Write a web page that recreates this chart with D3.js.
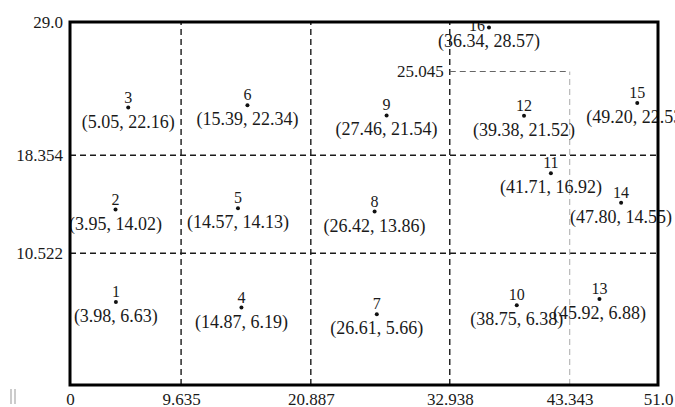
<!DOCTYPE html>
<html lang="en">
<head>
    <meta charset="UTF-8">
    <title>Partition</title>
    <script src="https://d3js.org/d3.v7.min.js"></script>
    <style>
        body { margin: 0; background: #fff; }
        text { font-family: "Liberation Serif", "DejaVu Serif", serif; fill: #1a1a1a; }
    </style>
</head>
<body>
<div style="width: 675px;height: 407px" id="figure"></div>
<script>

    // points: id, x, y and the coordinate text written under each one
    let ids = [1, 2, 3, 4, 5, 6, 7, 8, 9, 10, 11, 12, 13, 14, 15, 16];
    let px = [3.98, 3.95, 5.05, 14.87, 14.57, 15.39, 26.61, 26.42, 27.46, 38.75, 41.71, 39.38, 45.92, 47.80, 49.20, 36.34];
    let py = [6.63, 14.02, 22.16, 6.19, 14.13, 22.34, 5.66, 13.86, 21.54, 6.38, 16.92, 21.52, 6.88, 14.55, 22.53, 28.57];
    let coordLabels = ["(3.98, 6.63)", "(3.95, 14.02)", "(5.05, 22.16)", "(14.87, 6.19)", "(14.57, 14.13)",
        "(15.39, 22.34)", "(26.61, 5.66)", "(26.42, 13.86)", "(27.46, 21.54)", "(38.75, 6.38)",
        "(41.71, 16.92)", "(39.38, 21.52)", "(45.92, 6.88)", "(47.80, 14.55)", "(49.20, 22.53)", "(36.34, 28.57)"];

    // split lines and their tick labels
    let xTicks = [0, 9.635, 20.887, 32.938, 43.343, 51.0];
    let xTickLabels = ["0", "9.635", "20.887", "32.938", "43.343", "51.0"];
    let yTicks = [29.0, 18.354, 10.522];
    let yTickLabels = ["29.0", "18.354", "10.522"];
    let vSplits = [9.635, 20.887, 32.938]; // full height
    let hSplits = [18.354, 10.522];        // full width
    let subSplitY = 25.045;                // between 32.938 and 43.343
    let subSplitX = 43.343;                // from 0 up to 25.045
    let xMax = 51.0, yMax = 29.0;

    let figure = document.getElementById("figure");
    let boxLeft = 70, boxRight = 658, boxTop = 22, boxBottom = 385;

    let svg = d3.select(figure).append("svg")
        .attr('width', 675)
        .attr('height', 407);

    let xScale = d3.scaleLinear().domain([0, xMax]).range([boxLeft, boxRight]);
    let yScale = d3.scaleLinear().domain([0, yMax]).range([boxBottom, boxTop]);

    let plot = svg.append('g').attr('id', 'plot');

    // main dashed split lines
    vSplits.forEach(v => {
        plot.append('line')
            .style('stroke', '#1a1a1a')
            .style('stroke-width', 1.4)
            .style('stroke-dasharray', '6,4')
            .attr('x1', xScale(v)).attr('x2', xScale(v))
            .attr('y1', yScale(0)).attr('y2', yScale(yMax));
    });
    hSplits.forEach(h => {
        plot.append('line')
            .style('stroke', '#1a1a1a')
            .style('stroke-width', 1.4)
            .style('stroke-dasharray', '6,4')
            .attr('x1', xScale(0)).attr('x2', xScale(xMax))
            .attr('y1', yScale(h)).attr('y2', yScale(h));
    });
    // lighter sub splits
    plot.append('line')
        .style('stroke', '#666')
        .style('stroke-width', 1)
        .style('stroke-dasharray', '6,4')
        .attr('x1', xScale(vSplits[2])).attr('x2', xScale(subSplitX))
        .attr('y1', yScale(subSplitY)).attr('y2', yScale(subSplitY));
    plot.append('line')
        .style('stroke', '#aaa')
        .style('stroke-width', 1)
        .style('stroke-dasharray', '6,4')
        .attr('x1', xScale(subSplitX)).attr('x2', xScale(subSplitX))
        .attr('y1', yScale(0)).attr('y2', yScale(subSplitY));

    // axes (labels only)
    let xAxis = svg.append('g')
        .attr('transform', `translate(0,${boxBottom})`)
        .call(d3.axisBottom(xScale).tickValues(xTicks)
            .tickFormat((d, i) => xTickLabels[i]).tickSize(0).tickPadding(8));
    let yAxis = svg.append('g')
        .attr('transform', `translate(${boxLeft},0)`)
        .call(d3.axisLeft(yScale).tickValues(yTicks)
            .tickFormat((d, i) => yTickLabels[i]).tickSize(0).tickPadding(7));
    [xAxis, yAxis].forEach(a => {
        a.select('.domain').remove();
        a.selectAll('text').style('font-size', '17px')
            .style('font-family', '"Liberation Serif", serif').attr('fill', '#1a1a1a');
    });
    svg.append('text')
        .attr('x', xScale(vSplits[2]) - 6)
        .attr('y', yScale(subSplitY))
        .attr('dy', '0.32em')
        .attr('text-anchor', 'end')
        .style('font-size', '17px')
        .text(String(subSplitY));

    // points
    svg.append('clipPath').attr('id', 'box')
        .append('rect')
        .attr('x', boxLeft).attr('y', boxTop)
        .attr('width', boxRight - boxLeft).attr('height', boxBottom - boxTop);

    let pts = ids.map((id, i) => ({id: id, x: px[i], y: py[i], label: coordLabels[i]}));

    plot.selectAll('circle.pt').data(pts).enter().append('circle')
        .attr('class', 'pt')
        .attr('cx', d => xScale(d.x))
        .attr('cy', d => yScale(d.y))
        .attr('r', 2)
        .style('fill', '#111');

    let nums = plot.append('g').attr('clip-path', 'url(#box)');
    nums.selectAll('text').data(pts).enter().append('text')
        .attr('x', d => d.id === 16 ? xScale(d.x) - 4 : xScale(d.x))
        .attr('y', d => d.id === 16 ? yScale(d.y) + 4 : yScale(d.y) - 5)
        .attr('text-anchor', d => d.id === 16 ? 'end' : 'middle')
        .style('font-size', '16px')
        .text(d => d.id);

    plot.selectAll('text.coord').data(pts).enter().append('text')
        .attr('class', 'coord')
        .attr('x', d => xScale(d.x))
        .attr('y', d => yScale(d.y) + 20)
        .attr('text-anchor', 'middle')
        .style('font-size', '18px')
        .text(d => d.label);

    // frame
    svg.append('rect')
        .attr('x', boxLeft).attr('y', boxTop)
        .attr('width', boxRight - boxLeft).attr('height', boxBottom - boxTop)
        .style('fill', 'none')
        .style('stroke', '#000')
        .style('stroke-width', 3);

    // faint marks at the lower left corner of the scan
    [11, 15].forEach(x0 => {
        svg.append('line')
            .style('stroke', '#bbb').style('stroke-width', 1.5)
            .attr('x1', x0).attr('x2', x0).attr('y1', 389).attr('y2', 404);
    });
</script>
</body>
</html>
